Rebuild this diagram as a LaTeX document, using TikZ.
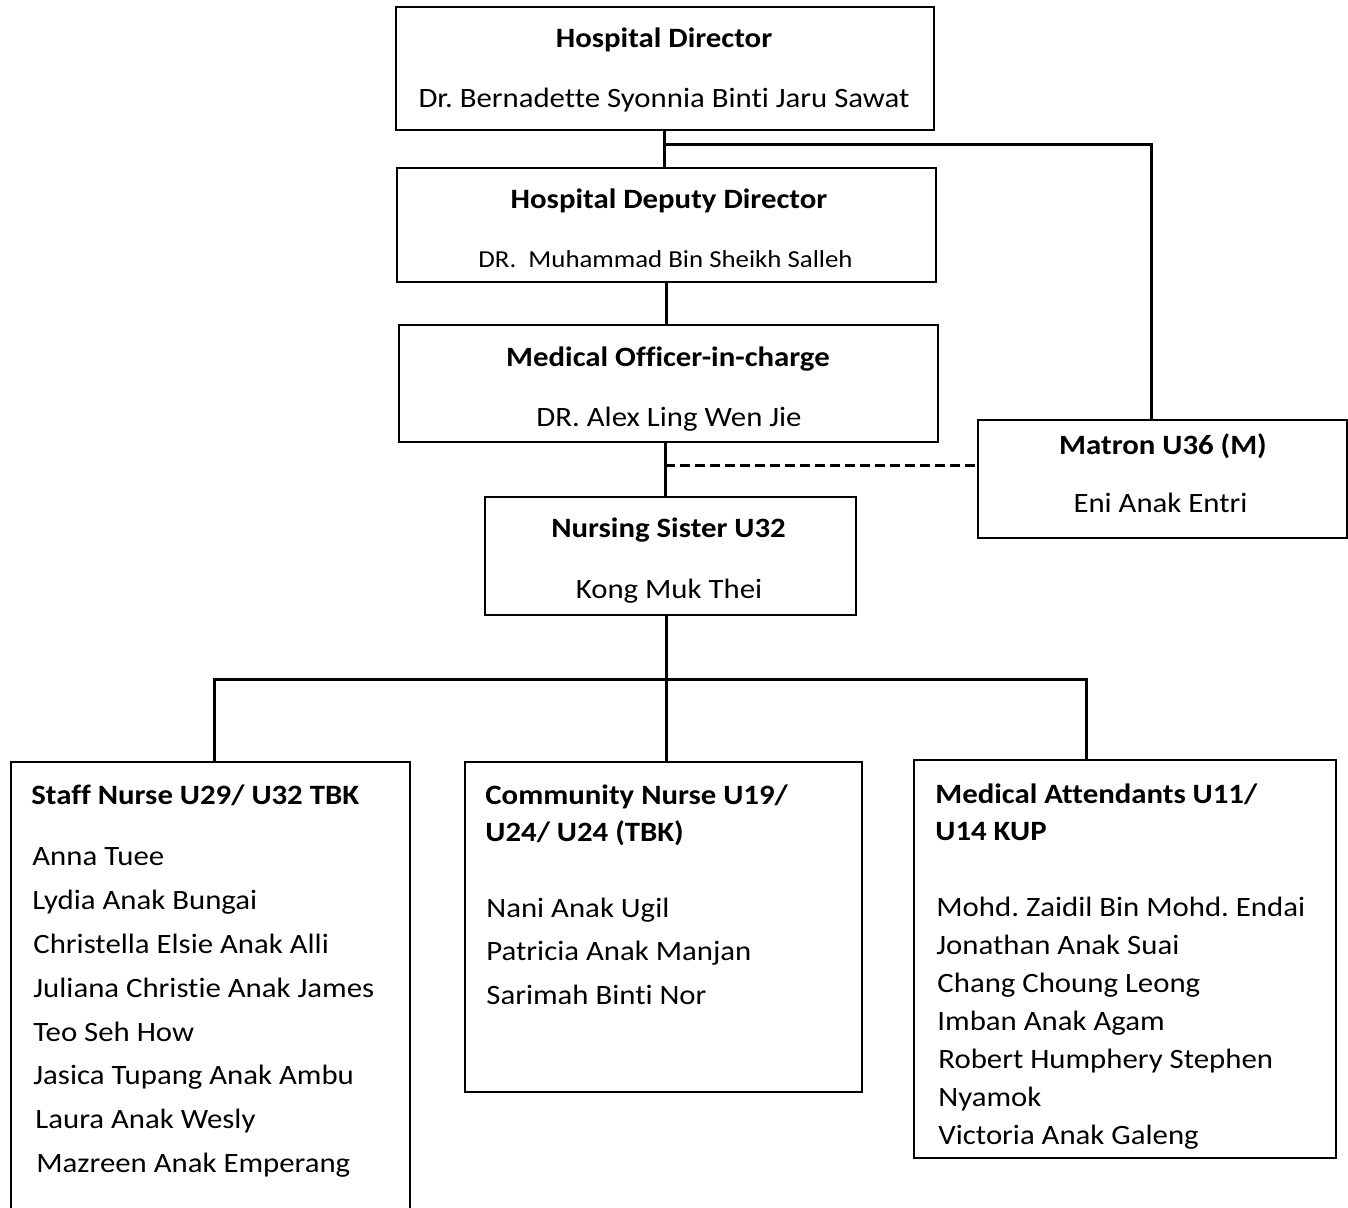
\documentclass[tikz,border=0pt]{standalone}
\usepackage{fontspec}
\setmainfont{Carlito}[FakeStretch=1.10, Ligatures=NoCommon]
\usepackage{tikz}
\newcommand{\chartfont}{\fontsize{14}{17}\selectfont}
\tikzset{box/.style={draw=black, line width=1pt, inner sep=0pt}}
\tikzset{link/.style={line width=1.5pt}}
\tikzset{dashlink/.style={line width=1.5pt, dash pattern=on 5pt off 2.5pt}}
\tikzset{title/.style={anchor=base, inner sep=0pt, font=\chartfont\bfseries}}
\tikzset{person/.style={anchor=base, inner sep=0pt, font=\chartfont}}
\tikzset{head/.style={anchor=base west, inner sep=0pt, font=\chartfont\bfseries}}
\tikzset{entry/.style={anchor=base west, inner sep=0pt, font=\chartfont}}
\frenchspacing

\begin{document}
\begin{tikzpicture}[x=0.5pt, y=-0.5pt]
  \useasboundingbox (0,0) rectangle (1348,1208);
  \clip (0,0) rectangle (1348,1208);

  \node[box, minimum width=269pt, minimum height=61.5pt] (dir) at (665,68.5) {};
  \node[title] (dirT) at (664,48) {Hospital Director};
  \node[person] (dirN) at (664,108) {Dr. Bernadette Syonnia Binti Jaru Sawat};

  \node[box, minimum width=269.5pt, minimum height=57pt] (dep) at (666.5,225) {};
  \node[title] (depT) at (669,209) {Hospital Deputy Director};
  \node[person, font=\fontsize{12.2}{15}\selectfont] (depN) at (665.5,268) {DR.\ \ Muhammad Bin Sheikh Salleh};

  \node[box, minimum width=269.5pt, minimum height=58.5pt] (mo) at (668.5,383.5) {};
  \node[title] (moT) at (668,366) {Medical Officer-in-charge};
  \node[person] (moN) at (669,426) {DR. Alex Ling Wen Jie};

  \node[box, minimum width=184.5pt, minimum height=59pt] (mat) at (1162.5,479) {};
  \node[title] (matT) at (1163,454) {Matron U36 (M)};
  \node[person] (matN) at (1160.5,512) {Eni Anak Entri};

  \node[box, minimum width=185.5pt, minimum height=59pt] (ns) at (670.5,556) {};
  \node[title] (nsT) at (668.5,537) {Nursing Sister U32};
  \node[person] (nsN) at (669,598) {Kong Muk Thei};

  % staff nurses
  \node[box, minimum width=199.5pt, minimum height=234pt] (staff) at (210.5,996) {};
  \node[head] (staffT) at (31,804) {Staff Nurse U29/ U32 TBK};
  \node[entry] (s1) at (32,865) {Anna Tuee};
  \node[entry] (s2) at (32,909) {Lydia Anak Bungai};
  \node[entry] (s3) at (33,953) {Christella Elsie Anak Alli};
  \node[entry] (s4) at (33,997) {Juliana Christie Anak James};
  \node[entry] (s5) at (33,1041) {Teo Seh How};
  \node[entry] (s6) at (33,1084) {Jasica Tupang Anak Ambu};
  \node[entry] (s7) at (35,1128) {Laura Anak Wesly};
  \node[entry] (s8) at (36,1172) {Mazreen Anak Emperang};

  % community nurses
  \node[box, minimum width=198.5pt, minimum height=165pt] (comm) at (663.5,927) {};
  \node[head] (commT) at (485,804) {Community Nurse U19/};
  \node[head] (commT2) at (485,841) {U24/ U24 (TBK)};
  \node[entry] (c1) at (486,917) {Nani Anak Ugil};
  \node[entry] (c2) at (486,960) {Patricia Anak Manjan};
  \node[entry] (c3) at (486,1004) {Sarimah Binti Nor};

  % medical attendants
  \node[box, minimum width=211pt, minimum height=199pt] (att) at (1125,959) {};
  \node[head] (attT) at (935,803) {Medical Attendants U11/};
  \node[head] (attT2) at (935,840) {U14 KUP};
  \node[entry] (a1) at (936,916) {Mohd. Zaidil Bin Mohd. Endai};
  \node[entry] (a2) at (936,954) {Jonathan Anak Suai};
  \node[entry] (a3) at (937,992) {Chang Choung Leong};
  \node[entry] (a4) at (937,1030) {Imban Anak Agam};
  \node[entry] (a5) at (938,1068) {Robert Humphery Stephen};
  \node[entry] (a6) at (938,1106) {Nyamok};
  \node[entry] (a7) at (938,1144) {Victoria Anak Galeng};

  \coordinate (j1) at (664,145);
  \coordinate (mx) at (1151,145);
  \coordinate (j2) at (666,300);
  \coordinate (j3) at (665,465);
  \coordinate (bl) at (214,679);
  \coordinate (bm) at (666,679);
  \coordinate (br) at (1086,679);

  \draw[link] (j1 |- dir.south) -- (j1 |- dep.north);
  \draw[link] (j1) -- (mx) -- (mx |- mat.north);
  \draw[link] (j2 |- dep.south) -- (j2 |- mo.north);
  \draw[link] (j3 |- mo.south) -- (j3 |- ns.north);
  \draw[dashlink] (j3) -- (j3 -| mat.west);
  \draw[link] (bm |- ns.south) -- (bm |- comm.north);
  \draw[link] (bl |- staff.north) |- (br) -- (br |- att.north);

\end{tikzpicture}
\end{document}
